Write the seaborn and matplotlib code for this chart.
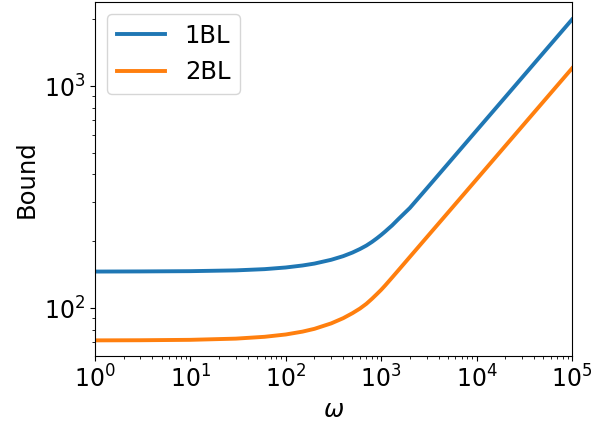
import matplotlib
matplotlib.use("Agg")
import matplotlib.pyplot as plt
import numpy as np
import pandas as pd
import seaborn as sns

# omega sample points
omega = [1, 3, 10, 30, 60, 100, 150, 200, 300, 400, 500, 600, 700, 800, 900,
         1000, 1100, 1200, 1300, 1500, 2000, 3000, 5000, 10000, 20000, 50000, 100000]

# bound for the one-BL case
bound_1bl = [146, 146.2, 146.6, 147.8, 149.7, 152.3, 155.5, 158.6, 165, 171.3, 177.8,
             184.5, 191.2, 198.5, 206, 213.5, 221, 228.5, 235.5, 250.5, 282.5, 345.5,
             446, 631, 892, 1411, 1995]

# bound for the two-BL case
bound_2bl = [71.5, 71.6, 71.9, 72.8, 74.2, 76, 78.3, 80.6, 85.3, 90, 94.8, 99.5, 104.5,
             110, 115.5, 120.8, 126.3, 131.8, 137.1, 147.2, 170, 208.2, 268.7, 380,
             537.5, 850, 1202]

series_names = ["1BL", "2BL"]
series_colors = ["#1f77b4", "#ff7f0e"]

df = pd.DataFrame({
    "omega": omega * 2,
    "bound": bound_1bl + bound_2bl,
    "series": [series_names[0]] * len(omega) + [series_names[1]] * len(omega),
})

fig = plt.figure(figsize=(5.93, 4.21), dpi=100)
ax = fig.add_axes([0.160, 0.1544, 0.8046, 0.8406])

sns.lineplot(data=df, x="omega", y="bound", hue="series", hue_order=series_names,
             palette=series_colors, linewidth=2.8, ax=ax)

ax.set_xscale("log")
ax.set_yscale("log")
ax.set_xlim(1, 1e5)
ax.set_ylim(60.8, 2390)

ax.set_xlabel(r"$\omega$", fontsize=17.5)
ax.set_ylabel("Bound", fontsize=17.5)
ax.tick_params(axis="both", which="major", labelsize=17)

handles, labels = ax.get_legend_handles_labels()
ax.legend(handles, labels, loc="upper left", fontsize=17.5)

fig.savefig("out.png", dpi=100)
